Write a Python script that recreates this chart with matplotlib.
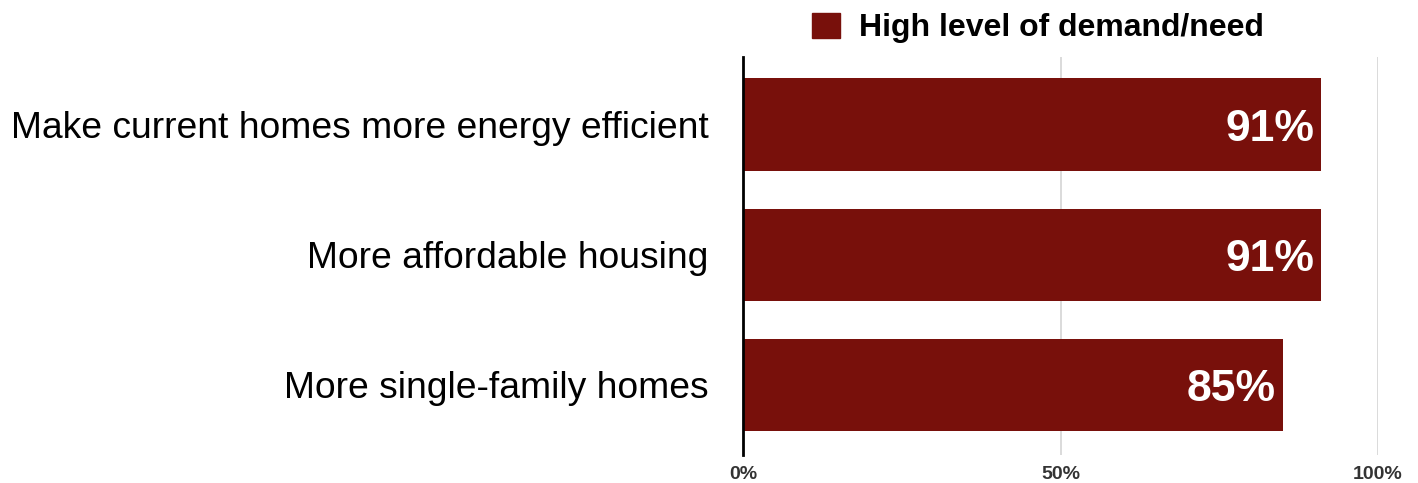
import matplotlib.pyplot as plt
from matplotlib.patches import Patch

plt.rcParams['font.family'] = ['Liberation Sans', 'DejaVu Sans']

categories = ["Make current homes more energy efficient",
              "More affordable housing",
              "More single-family homes"]
values = [91, 91, 85]
series_name = "High level of demand/need"
xticks = [0, 50, 100]
xtick_labels = ["0%", "50%", "100%"]

bar_color = "#78100b"

fig = plt.figure(figsize=(14.18, 4.83), dpi=100)
ax = fig.add_axes([0.524, 0.058, 0.4478, 0.824])

pos = list(range(len(categories)))
bars = ax.barh(pos, values, height=0.71, color=bar_color, zorder=3)

# value labels sit inside the bar ends, nudged down to centre the digits
for b, v in zip(bars, values):
    ax.text(b.get_width() - 1.1, b.get_y() + b.get_height() / 2 + 0.035, f"{v}%",
            ha="right", va="center", color="white", fontsize=32,
            fontweight="bold", zorder=4)

ax.set_xlim(0, 100)
ax.set_ylim(2.54, -0.52)
ax.set_yticks(pos)
ax.set_yticklabels(categories, fontsize=26.8)
ax.set_xticks(xticks)
ax.set_xticklabels(xtick_labels, fontsize=14, fontweight="bold", color="#333333")
ax.tick_params(axis="both", length=0)
ax.tick_params(axis="y", pad=25)
ax.tick_params(axis="x", pad=8)

ax.grid(axis="x", color="#d4d4d4", linewidth=1.2, zorder=0)
for side in ["top", "right", "bottom"]:
    ax.spines[side].set_visible(False)
ax.spines["left"].set_linewidth(2)
ax.spines["left"].set_color("black")
ax.spines["left"].set_zorder(5)

fig.legend(handles=[Patch(color=bar_color, label=series_name)],
           loc="center", bbox_to_anchor=(0.732, 0.942), frameon=False,
           prop={"size": 23, "weight": "bold"}, handlelength=0.85,
           handleheight=0.85, handletextpad=0.6)

fig.savefig("out.png", dpi=100)
